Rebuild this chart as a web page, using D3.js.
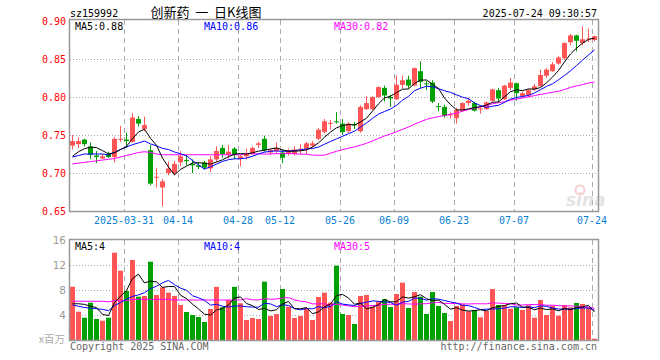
<!DOCTYPE html>
<html>
<head>
<meta charset="utf-8">
<script src="https://cdn.jsdelivr.net/npm/d3@7/dist/d3.min.js"></script>
<style>
  html, body { margin: 0; padding: 0; background: #fff; }
  svg { display: block; }
</style>
</head>
<body>
<svg id="chart" width="660" height="360"></svg>
<script>
// ---------------- data ----------------
const dates = [
  "2025-03-18","2025-03-19","2025-03-20","2025-03-21","2025-03-24","2025-03-25","2025-03-26","2025-03-27","2025-03-28","2025-03-31",
  "2025-04-01","2025-04-02","2025-04-03","2025-04-07","2025-04-08","2025-04-09","2025-04-10","2025-04-11","2025-04-14","2025-04-15",
  "2025-04-16","2025-04-17","2025-04-18","2025-04-21","2025-04-22","2025-04-23","2025-04-24","2025-04-25","2025-04-28","2025-04-29",
  "2025-04-30","2025-05-06","2025-05-07","2025-05-08","2025-05-09","2025-05-12","2025-05-13","2025-05-14","2025-05-15","2025-05-16",
  "2025-05-19","2025-05-20","2025-05-21","2025-05-22","2025-05-23","2025-05-26","2025-05-27","2025-05-28","2025-05-29","2025-05-30",
  "2025-06-03","2025-06-04","2025-06-05","2025-06-06","2025-06-09","2025-06-10","2025-06-11","2025-06-12","2025-06-13","2025-06-16",
  "2025-06-17","2025-06-18","2025-06-19","2025-06-20","2025-06-23","2025-06-24","2025-06-25","2025-06-26","2025-06-27","2025-06-30",
  "2025-07-01","2025-07-02","2025-07-03","2025-07-04","2025-07-07","2025-07-08","2025-07-09","2025-07-10","2025-07-11","2025-07-14",
  "2025-07-15","2025-07-16","2025-07-17","2025-07-18","2025-07-21","2025-07-22","2025-07-23","2025-07-24"
];
const open = [
  0.736,0.738,0.744,0.735,0.723,0.719,0.725,0.721,0.744,0.744,
  0.741,0.771,0.758,0.730,0.694,0.681,0.700,0.700,0.714,0.717,
  0.712,0.710,0.714,0.706,0.718,0.733,0.724,0.732,0.719,0.722,
  0.725,0.737,0.745,0.727,0.729,0.727,0.725,0.725,0.731,0.732,
  0.736,0.745,0.754,0.765,0.768,0.765,0.755,0.764,0.755,0.784,
  0.784,0.800,0.812,0.800,0.797,0.816,0.823,0.815,0.834,0.818,
  0.819,0.788,0.787,0.776,0.772,0.782,0.792,0.792,0.784,0.784,
  0.795,0.809,0.797,0.812,0.818,0.801,0.802,0.810,0.814,0.828,
  0.834,0.844,0.851,0.872,0.881,0.871,0.876,0.875
];
const high = [
  0.750,0.747,0.745,0.740,0.729,0.725,0.728,0.747,0.762,0.753,
  0.779,0.775,0.774,0.737,0.706,0.692,0.715,0.716,0.729,0.724,
  0.718,0.714,0.716,0.722,0.735,0.737,0.737,0.734,0.724,0.732,
  0.735,0.741,0.749,0.732,0.740,0.731,0.732,0.735,0.738,0.741,
  0.742,0.759,0.771,0.770,0.780,0.771,0.767,0.767,0.789,0.801,
  0.801,0.814,0.815,0.803,0.828,0.828,0.828,0.839,0.847,0.821,
  0.822,0.792,0.790,0.780,0.786,0.793,0.799,0.794,0.787,0.794,
  0.811,0.812,0.816,0.825,0.819,0.807,0.811,0.817,0.836,0.838,
  0.846,0.854,0.872,0.883,0.882,0.893,0.890,0.881
];
const low = [
  0.731,0.733,0.735,0.718,0.713,0.719,0.720,0.714,0.741,0.733,
  0.740,0.761,0.755,0.684,0.681,0.656,0.697,0.697,0.709,0.710,
  0.700,0.705,0.705,0.701,0.715,0.720,0.719,0.718,0.709,0.718,
  0.724,0.733,0.728,0.724,0.726,0.713,0.723,0.723,0.725,0.725,
  0.734,0.743,0.752,0.757,0.765,0.750,0.753,0.758,0.753,0.783,
  0.783,0.799,0.794,0.787,0.796,0.811,0.811,0.814,0.811,0.809,
  0.792,0.781,0.773,0.772,0.765,0.781,0.789,0.781,0.778,0.783,
  0.793,0.793,0.796,0.809,0.795,0.799,0.800,0.808,0.814,0.825,
  0.833,0.843,0.849,0.868,0.860,0.868,0.872,0.873
];
const close = [
  0.742,0.742,0.738,0.724,0.721,0.722,0.721,0.745,0.745,0.742,
  0.773,0.765,0.763,0.686,0.695,0.689,0.706,0.712,0.722,0.716,
  0.710,0.708,0.707,0.718,0.729,0.725,0.728,0.724,0.722,0.726,
  0.733,0.739,0.730,0.730,0.733,0.720,0.730,0.731,0.732,0.739,
  0.739,0.757,0.768,0.766,0.767,0.754,0.765,0.763,0.787,0.792,
  0.800,0.813,0.802,0.798,0.816,0.822,0.815,0.838,0.820,0.817,
  0.794,0.787,0.775,0.777,0.783,0.792,0.795,0.782,0.785,0.793,
  0.810,0.798,0.815,0.819,0.805,0.805,0.809,0.814,0.829,0.836,
  0.843,0.852,0.871,0.881,0.874,0.876,0.877,0.880
];
// volume, in millions (x百万)
const volume = [
  8.53,4.53,3.57,5.97,3.36,3.09,3.57,13.97,11.09,7.84,
  12.80,6.93,7.04,12.53,7.20,8.43,7.57,7.04,5.60,4.48,
  4.00,3.68,2.88,4.96,8.50,5.23,6.40,8.50,5.87,3.20,
  3.52,3.36,9.33,3.84,4.16,8.16,5.33,3.52,3.84,5.12,
  3.20,6.88,7.57,5.97,11.89,4.16,4.00,2.56,7.04,7.20,
  5.33,6.13,6.56,5.28,7.36,9.17,5.12,7.68,6.93,4.16,
  7.68,5.44,4.32,3.04,5.44,5.71,4.59,4.80,3.63,4.64,
  8.16,5.60,5.60,5.01,5.23,4.80,5.55,3.57,6.40,4.00,
  5.44,3.89,5.60,5.23,5.92,5.76,5.23,0.21
];
// moving-average values before enough history exists
const ma5Head   = [0.722,0.728,0.732,0.734];
const ma10Head  = [0.721,0.723,0.725,0.725,0.725,0.725,0.724,0.727,0.731];
const ma30Head  = [0.712,0.713,0.714,0.715,0.716,0.717,0.718,0.719,0.721,0.723,
                   0.725,0.727,0.728,0.727,0.725,0.724,0.724,0.724,0.724,0.724,
                   0.724,0.724,0.724,0.724,0.724,0.724,0.724,0.724,0.724];
const vma5Head  = [5.8,5.8,5.7,5.4];
const vma10Head = [5.6,5.4,5.2,5.1,5.0,4.9,4.7,5.5,6.0];
const vma30Head = [6.2,6.2,6.2,6.2,6.2,6.2,6.1,6.3,6.3,6.3,
                   6.5,6.5,6.5,6.5,6.5,6.5,6.5,6.4,6.4,6.4,
                   6.4,6.4,6.4,6.4,6.4,6.4,6.4,6.4,6.4];

const tickDates  = ["2025-03-31","2025-04-14","2025-04-28","2025-05-12","2025-05-26","2025-06-09","2025-06-23","2025-07-07","2025-07-24"];
const tickLabels = ["2025-03-31","04-14","04-28","05-12","05-26","06-09","06-23","07-07","07-24"];
const priceTicks = [0.65,0.70,0.75,0.80,0.85,0.90];
const volTicks   = [4,8,12,16];

const titleCode = "sz159992";
const titleName = "创新药  一  日K线图";
const timestamp = "2025-07-24 09:30:57";
const priceLegend = ["MA5:0.88","MA10:0.86","MA30:0.82"];
const volLegend   = ["MA5:4","MA10:4","MA30:5"];
const copyright = "Copyright 2025 SINA.COM";
const siteUrl = "http://finance.sina.com.cn";

// ---------------- helpers ----------------
function movingAvg(vals, n, head) {
  return vals.map((v, i) => i < n - 1 ? head[i] : d3.mean(vals.slice(i - n + 1, i + 1)));
}
const ma5 = movingAvg(close, 5, ma5Head);
const ma10 = movingAvg(close, 10, ma10Head);
const ma30 = movingAvg(close, 30, ma30Head);
const vma5 = movingAvg(volume, 5, vma5Head);
const vma10 = movingAvg(volume, 10, vma10Head);
const vma30 = movingAvg(volume, 30, vma30Head);

const UP = "#ff5555", DOWN = "#00a000";
const maColors = ["#000000", "#0000ff", "#ff00ff"];

// ---------------- layout ----------------
const svg = d3.select("#chart");
const L = 70, R = 598;
const P = {top: 20, bottom: 211};
const V = {top: 240, bottom: 340};

const x = d3.scaleBand().domain(dates).range([L, R]).padding(0);
const bw = x.bandwidth() - 1; // 5px body
const cx = d => x(d) + bw / 2;
const y = d3.scaleLinear().domain([0.65, 0.90]).range([P.bottom, 21]);
const yv = d3.scaleLinear().domain([0, 16]).range([V.bottom, V.top]);

// ---------- grid ----------
function grid(g, top, bottom, hTicks, yScale) {
  g.selectAll("line.h").data(hTicks).join("line")
    .attr("x1", L).attr("x2", R)
    .attr("y1", d => Math.round(yScale(d)) + 0.5).attr("y2", d => Math.round(yScale(d)) + 0.5)
    .attr("stroke", "#aaa").attr("stroke-dasharray", "1,2");
  g.selectAll("line.v").data(tickDates).join("line")
    .attr("x1", d => x(d) + 0.5).attr("x2", d => x(d) + 0.5)
    .attr("y1", top).attr("y2", bottom)
    .attr("stroke", "#aaa").attr("stroke-dasharray", "5,4");
}
grid(svg.append("g"), P.top, P.bottom, [0.70, 0.75, 0.80, 0.85], y);
grid(svg.append("g"), V.top, V.bottom, [4, 8, 12], yv);

// ---------- watermark ----------
const wm = svg.append("g").attr("opacity", 0.5);
wm.append("text").attr("x", 566).attr("y", 206)
  .attr("font-family", "DejaVu Sans, sans-serif").attr("font-size", 17)
  .attr("font-weight", "bold").attr("font-style", "italic").attr("fill", "#c8c8c8").text("sina");
wm.append("circle").attr("cx", 580).attr("cy", 190).attr("r", 4.5)
  .attr("fill", "none").attr("stroke", "#f4a0a0").attr("stroke-width", 2);

// ---------- candles ----------
const idx = d3.range(dates.length);
const cg = svg.append("g");
cg.selectAll("line.wick").data(idx).join("line")
  .attr("x1", i => Math.floor(cx(dates[i])) + 0.5)
  .attr("x2", i => Math.floor(cx(dates[i])) + 0.5)
  .attr("y1", i => y(high[i])).attr("y2", i => y(low[i]))
  .attr("stroke", i => close[i] >= open[i] ? UP : DOWN);
cg.selectAll("rect.body").data(idx).join("rect")
  .attr("x", i => x(dates[i]))
  .attr("width", bw)
  .attr("y", i => y(Math.max(open[i], close[i])))
  .attr("height", i => Math.max(1, Math.abs(y(open[i]) - y(close[i]))))
  .attr("fill", i => close[i] >= open[i] ? UP : DOWN);

// ---------- MA lines ----------
function maLine(g, vals, yScale, color) {
  g.append("path").datum(idx)
    .attr("fill", "none").attr("stroke", color).attr("stroke-width", 1)
    .attr("d", d3.line().x(i => cx(dates[i])).y(i => yScale(vals[i])));
}
const mg = svg.append("g");
maLine(mg, ma30, y, maColors[2]);
maLine(mg, ma10, y, maColors[1]);
maLine(mg, ma5, y, maColors[0]);

// ---------- volume ----------
const vg = svg.append("g");
vg.selectAll("rect").data(idx).join("rect")
  .attr("x", i => x(dates[i]))
  .attr("width", bw)
  .attr("y", i => yv(volume[i]))
  .attr("height", i => yv(0) - yv(volume[i]))
  .attr("fill", i => close[i] >= open[i] ? UP : DOWN);
const vmg = svg.append("g");
maLine(vmg, vma30, yv, maColors[2]);
maLine(vmg, vma10, yv, maColors[1]);
maLine(vmg, vma5, yv, maColors[0]);

// ---------- frames ----------
[[P.top, P.bottom], [V.top, V.bottom]].forEach(([t, b]) => {
  svg.append("rect").attr("x", L - 0.5).attr("y", t - 0.5)
    .attr("width", R - L + 1).attr("height", b - t + 1)
    .attr("fill", "none").attr("stroke", "#999").attr("stroke-width", 1.5);
});

// ---------- axes ----------
const ay = svg.append("g").attr("transform", `translate(${L},0)`)
  .call(d3.axisLeft(y).tickValues(priceTicks).tickFormat(d3.format(".2f")).tickSize(0).tickPadding(4));
ay.select(".domain").remove();
ay.selectAll("text").attr("fill", "#ff0000")
  .style("font-family", '"DejaVu Sans Mono", monospace').style("font-size", "10px");

const av = svg.append("g").attr("transform", `translate(${L},0)`)
  .call(d3.axisLeft(yv).tickValues(volTicks).tickSize(0).tickPadding(4));
av.select(".domain").remove();
av.selectAll("text").attr("fill", "#999")
  .style("font-family", '"DejaVu Sans", sans-serif').style("font-size", "10.5px");
svg.append("text").attr("x", L - 5).attr("y", V.bottom + 3).attr("text-anchor", "end")
  .attr("fill", "#aaa").style("font-family", '"Noto Sans CJK SC", sans-serif').style("font-size", "10.5px")
  .text("x百万");

const ax = svg.append("g").attr("transform", `translate(0,${P.bottom})`)
  .call(d3.axisBottom(x).tickValues(tickDates)
    .tickFormat((d) => tickLabels[tickDates.indexOf(d)]).tickSize(0).tickPadding(6));
ax.select(".domain").remove();
ax.selectAll(".tick").attr("transform", d => `translate(${x(d)},0)`);
ax.selectAll("text").attr("fill", "#0a7fd6")
  .style("font-family", '"DejaVu Sans Mono", monospace').style("font-size", "10px");

// ---------- texts ----------
const mono = sel => sel.style("font-family", '"DejaVu Sans Mono", monospace').style("font-size", "10px");
mono(svg.append("text").attr("x", 70).attr("y", 17).attr("fill", "#000").text(titleCode));
svg.append("text").attr("x", 206).attr("y", 17).attr("text-anchor", "middle")
  .style("white-space", "pre")
  .style("font-family", '"Noto Sans CJK SC", sans-serif').style("font-size", "13px")
  .attr("fill", "#000").text(titleName);
mono(svg.append("text").attr("x", 597).attr("y", 17).attr("text-anchor", "end").attr("fill", "#000").text(timestamp));

const legendX = [75, 204, 334];
priceLegend.forEach((t, k) => mono(svg.append("text").attr("x", legendX[k]).attr("y", 30).attr("fill", maColors[k]).text(t)));
volLegend.forEach((t, k) => mono(svg.append("text").attr("x", legendX[k]).attr("y", 250).attr("fill", maColors[k]).text(t)));

mono(svg.append("text").attr("x", 70).attr("y", 350).attr("fill", "#666").text(copyright));
mono(svg.append("text").attr("x", 597).attr("y", 350).attr("text-anchor", "end").attr("fill", "#666").text(siteUrl));
</script>
</body>
</html>
